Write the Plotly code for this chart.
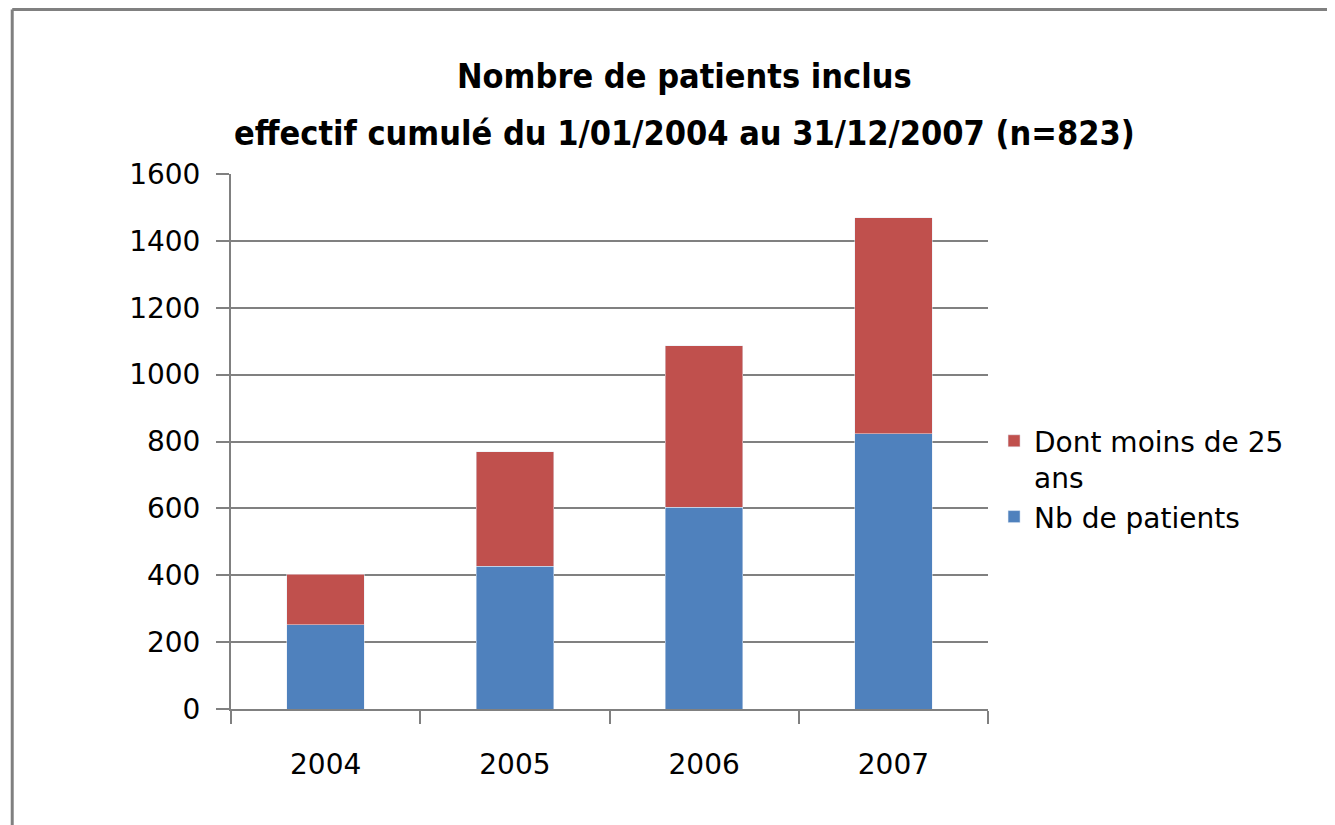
import plotly.graph_objects as go

# data
years = ['2004', '2005', '2006', '2007']
nb_patients = [252, 427, 603, 823]
moins_25 = [151, 342, 483, 646]

y_ticks = [0, 200, 400, 600, 800, 1000, 1200, 1400, 1600]

title_line1 = 'Nombre de patients inclus'
title_line2 = 'effectif cumulé du 1/01/2004 au 31/12/2007 (n=823)'

BLUE = '#4F81BD'
RED = '#C0504D'
GRID = '#808080'
TICK_FONT = dict(family='DejaVu Sans, Verdana, sans-serif', size=28, color='black')
TITLE_FONT = dict(family='Liberation Sans Narrow, DejaVu Sans Condensed, Arial Narrow, sans-serif',
                  size=34, color='black')

fig = go.Figure()
fig.add_trace(go.Bar(x=years, y=nb_patients, name='Nb de patients', marker_color=BLUE))
fig.add_trace(go.Bar(x=years, y=moins_25, name='Dont moins de 25<br>ans', marker_color=RED))

# the page adds ~8px of body margin, so the figure is a bit smaller than the window
fig.update_layout(
    barmode='stack',
    bargap=0.59,
    width=1327, height=817,
    margin=dict(l=223, r=347, t=166, b=116),
    paper_bgcolor='white',
    plot_bgcolor='white',
    showlegend=True,
    legend=dict(
        traceorder='reversed',
        x=1.008, xanchor='left',
        y=0.5475, yanchor='top',
        valign='top',
        bgcolor='white',
        font=TICK_FONT,
        tracegroupgap=0,
    ),
    annotations=[
        dict(text='<b>' + title_line1 + '</b>', xref='paper', yref='paper', x=0.599, y=1.183,
             xanchor='center', yanchor='middle', showarrow=False, font=TITLE_FONT),
        dict(text='<b>' + title_line2 + '</b>', xref='paper', yref='paper', x=0.599, y=1.077,
             xanchor='center', yanchor='middle', showarrow=False, font=TITLE_FONT),
    ],
    shapes=[
        # outer chart border (left and top edges visible)
        dict(type='line', xref='paper', yref='paper', x0=-0.289, x1=1.47, y0=1.3075, y1=1.3075,
             line=dict(color=GRID, width=3)),
        dict(type='line', xref='paper', yref='paper', x0=-0.289, x1=-0.289, y0=-0.25, y1=1.3075,
             line=dict(color=GRID, width=3)),
    ],
)

fig.update_yaxes(
    range=[0, 1600],
    tickvals=y_ticks,
    showgrid=True, gridcolor=GRID, gridwidth=2,
    showline=True, linecolor=GRID, linewidth=2,
    ticks='outside', ticklen=13, tickwidth=2, tickcolor=GRID,
    tickfont=TICK_FONT,
    ticklabelstandoff=10,
    zeroline=False,
)
fig.update_xaxes(
    type='category',
    showgrid=False,
    showline=True, linecolor=GRID, linewidth=2,
    ticks='outside', tickson='boundaries', ticklen=13, tickwidth=2, tickcolor=GRID,
    tickfont=TICK_FONT,
    ticklabelstandoff=29,
)

fig.write_html('out.html')
